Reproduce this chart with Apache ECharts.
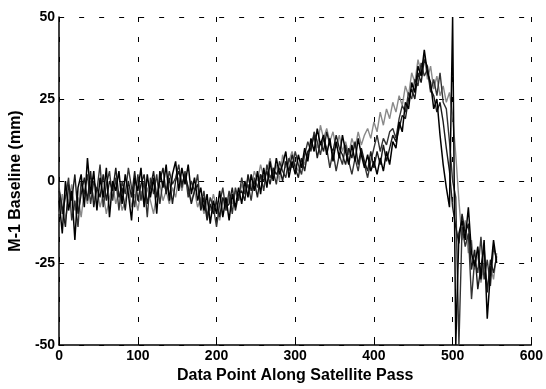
<!DOCTYPE html>
<html>
<head>
<meta charset="utf-8">
<script src="https://cdn.jsdelivr.net/npm/echarts@6/dist/echarts.min.js"></script>
<style>html,body{margin:0;padding:0;background:#fff}#c{width:546px;height:389px}</style>
</head>
<body>
<div id="c"></div>
<script>
// Data point index step between stored samples
const STEP = 4;
const xTicks = [0, 100, 200, 300, 400, 500, 600];
const yTicks = [-50, -25, 0, 25, 50];

// Baseline (mm), sampled every 4 data points from 0 to 556
const passA = [
  -6, -16, 0, -9, -3, -18, -2, 2, -8, 7,
  -4, 3, -9, 1, -5, 4, -11, 0, -3, 3,
  -7, 2, -4, -12, 1, -3, 4, -8, 2, -5,
  1, -10, 3, -2, 5, -6, 2, 6, -3, 4,
  -1, 5, -4, 1, -6, -2, -9, -4, -13, -6,
  -10, -3, -11, -5, -12, -4, -8, -2, -7, 0,
  -5, 2, -3, 3, -4, 4, -2, 6, 0, 7,
  2, 5, 9, 1, 6, 2, 8, 4, 10, 6,
  13, 9, 16, 11, 14, 8, 13, 6, 12, 7,
  14, 9, 5, 11, 6, 13, 8, 4, 8, 3,
  6, 2, 7, 3, 9, 5, 12, 10, 18, 15,
  24, 22, 30, 27, 35, 32, 40, 33, 30, 22,
  25, 14, 5, -2, -8, 50, -50, -16, -12, -18,
  -8, -22, -26, -20, -30, -18, -42, -28, -18, -25
];
const passB = [
  -2, -10, -5, 1, -12, -6, -14, 0, -4, 2,
  -7, 0, -3, 5, -8, -1, 3, -6, 1, -9,
  0, -4, 4, -2, -8, 2, -6, 0, -11, 1,
  -4, 2, -7, 0, -3, 3, -1, 1, 5, -2,
  3, -5, 0, -3, 2, -8, -3, -11, -5, -8,
  -14, -7, -2, -9, -3, -10, -2, -6, 1, -4,
  -1, -6, 1, -2, 2, -3, 5, 1, 3, -1,
  6, 3, 1, 7, 4, 9, 5, 2, 8, 12,
  9, 15, 12, 8, 13, 10, 4, 9, 3, 8,
  5, 11, 6, 2, 7, 3, 9, 5, 1, 6,
  10, 14, 9, 13, 11, 15, 16, 13, 19, 23,
  21, 27, 25, 31, 29, 36, 32, 34, 27, 31,
  26, 33, 24, 22, 12, 0, -5, -50, -14, -20,
  -16, -36, -24, -28, -17, -30, -24, -32, -20, -24
];
const passC = [
  -10, -4, -12, -6, -1, -9, -5, -11, -3, -7,
  0, -6, -2, -8, -4, -10, -5, -1, -7, -3,
  -9, -6, -2, -8, -4, -9, -3, -7, -2, -6,
  -10, -4, -1, -6, -3, -7, -2, -5, 1, -3,
  2, -2, -6, -3, -8, -5, -10, -6, -9, -4,
  -8, -12, -6, -9, -5, -7, -3, -6, -1, -4,
  1, -2, 3, 0, 5, 1, 3, 7, 2, 5,
  0, 8, 4, 6, 9, 5, 3, 7, 5, 9,
  11, 14, 10, 17, 13, 16, 12, 15, 10, 14,
  9, 12, 8, 13, 10, 15, 11, 14, 16, 13,
  18, 15, 21, 17, 22, 19, 24, 21, 26, 23,
  29, 26, 33, 30, 37, 33, 38, 31, 35, 28,
  32, 26, 29, 24, 27, 20, 8, -6, -18, -12,
  -22, -18, -27, -22, -31, -25, -33, -26, -30, -22
];
const passD = [
  -3, -8, -14, -1, -6, 2, -10, -4, 1, -6,
  3, -8, -2, -5, 2, -6, 0, -3, 4, -5,
  -2, -9, 0, -5, 3, -6, -1, 2, -7, -2,
  3, -5, 0, 4, -4, 1, -7, 0, 3, -1,
  2, -2, -7, -3, -1, -9, -5, -12, -7, -10,
  -6, -11, -5, -8, -7, -2, -9, -4, -3, -6,
  2, -3, 0, -5, 2, 0, 3, -1, 4, 2,
  4, 0, 6, 3, 8, 4, 1, 7, 3, 9,
  10, 14, 7, 12, 9, 15, 11, 9, 14, 10,
  8, 5, 10, 7, 12, 5, 10, 6, 3, 9,
  4, 9, 5, 11, 6, 10, 14, 12, 16, 20,
  19, 25, 28, 25, 33, 30, 37, 35, 28, 26,
  21, 24, 18, 10, 3, -8, -14, -19, -10, -16,
  -13, -27, -21, -33, -26, -20, -34, -24, -28, -23
];

const toPairs = arr => arr.map((v, i) => [i * STEP, v]);
const FONT = '"Liberation Sans", Arial, Helvetica, sans-serif';

const chart = echarts.init(document.getElementById('c'), null, {renderer: 'canvas'});
const gridDash = {color: '#000', width: 1, type: [5, 15]};

chart.setOption({
  animation: false,
  backgroundColor: '#fff',
  grid: {left: 54, right: 12, top: 17, bottom: 41, containLabel: false},
  xAxis: {
    type: 'value', min: 0, max: 600, interval: 100,
    name: 'Data Point Along Satellite Pass', nameLocation: 'middle', nameGap: 23,
    nameTextStyle: {fontFamily: FONT, fontWeight: 'bold', fontSize: 16, color: '#000'},
    axisLine: {show: true, onZero: false, lineStyle: {color: '#000', width: 1.5}},
    axisTick: {show: true, inside: true, length: 3, lineStyle: {color: '#000'}},
    axisLabel: {fontFamily: FONT, fontWeight: 'bold', fontSize: 14, color: '#000', margin: 4,
      formatter: v => xTicks.includes(v) ? String(v) : ''},
    splitLine: {show: true, lineStyle: gridDash}
  },
  yAxis: {
    type: 'value', min: -50, max: 50, interval: 25,
    name: 'M-1 Baseline (mm)', nameLocation: 'middle', nameGap: 32,
    nameTextStyle: {fontFamily: FONT, fontWeight: 'bold', fontSize: 16, color: '#000'},
    axisLine: {show: true, onZero: false, lineStyle: {color: '#000', width: 1.5}},
    axisTick: {show: true, inside: true, length: 3, lineStyle: {color: '#000'}},
    axisLabel: {fontFamily: FONT, fontWeight: 'bold', fontSize: 14, color: '#000', margin: 4,
      formatter: v => yTicks.includes(v) ? String(v) : ''},
    splitLine: {show: true, lineStyle: gridDash}
  },
  series: [
    {type: 'line', data: toPairs(passC), symbol: 'none', lineStyle: {color: '#8a8a8a', width: 1.4}, z: 2},
    {type: 'line', data: toPairs(passB), symbol: 'none', lineStyle: {color: '#333', width: 1.4}, z: 3},
    {type: 'line', data: toPairs(passD), symbol: 'none', lineStyle: {color: '#1a1a1a', width: 1.4}, z: 3},
    {type: 'line', data: toPairs(passA), symbol: 'none', lineStyle: {color: '#000', width: 1.5}, z: 4}
  ]
});
</script>
</body>
</html>
